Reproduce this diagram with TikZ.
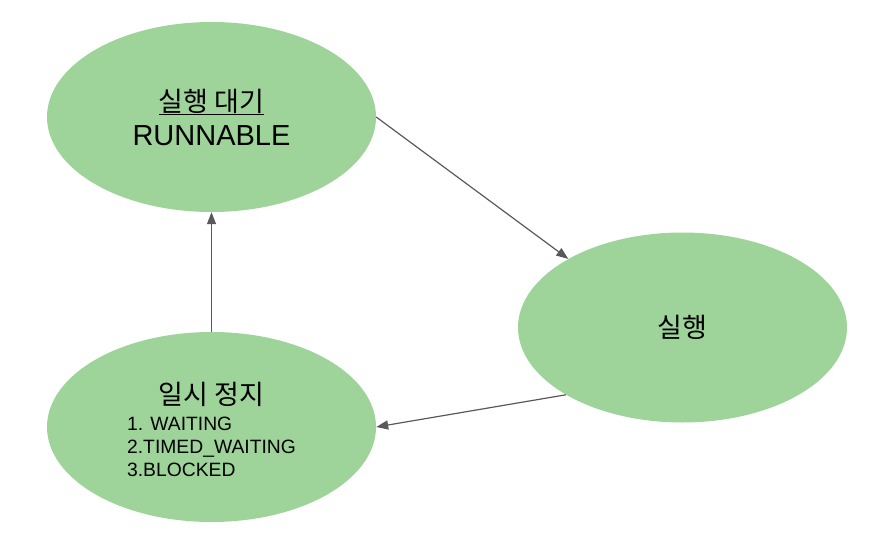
\documentclass[tikz,border=0pt]{standalone}
\usepackage{fontspec}
\setmainfont{Liberation Sans}
\newfontfamily\krfont{Noto Sans CJK KR}
\usetikzlibrary{positioning,arrows.meta,shapes.geometric}
\definecolor{stategreen}{RGB}{158,212,154}
\definecolor{edgegray}{RGB}{89,89,89}
\tikzset{
    state/.style={ellipse, fill=stategreen, minimum width=329pt, minimum height=190pt,
        inner sep=0pt, align=center, font=\fontsize{29}{34}\selectfont},
    flow/.style={draw=edgegray, line width=1.2pt, -{Triangle[length=12pt,width=9pt]}}
}

\begin{document}
\begin{tikzpicture}[x=1pt,y=-1pt]
        \useasboundingbox (0,0) rectangle (876,546);

        \node[state] (ready) at (211.5,117) {{\krfont\fontsize{27}{34}\selectfont\underline{실행 대기}}\\RUNNABLE};
        \node[state] (run) at (682.5,327.5) {\krfont\fontsize{27}{34}\selectfont 실행};
        \node[state] (pause) at (211.5,427) {\rule{0pt}{34pt}{\krfont\fontsize{27}{34}\selectfont 일시 정지}\\[6pt]
            {\fontsize{19.3}{23}\selectfont\begin{tabular}{@{}l@{}}1. WAITING\\2.TIMED\_WAITING\\3.BLOCKED\end{tabular}}};

        \draw[flow] (ready.east) -- (run.149);
        \draw[flow] (run.210) -- (pause.east);
        \draw[flow] (pause.north) -- (ready.south);
    \end{tikzpicture}
\end{document}
